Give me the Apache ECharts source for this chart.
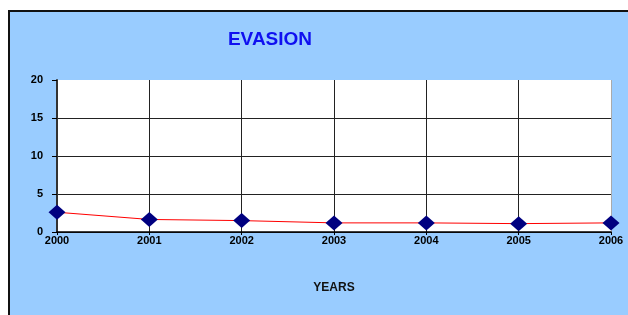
<!DOCTYPE html>
<html>
<head>
<meta charset="utf-8">
<script src="https://cdn.jsdelivr.net/npm/echarts@6/dist/echarts.min.js"></script>
<style>
	body { margin: 0; background: #fff; }
	#mainchart {
		position: absolute; left: 8px; top: 10px;
		width: 618px; height: 303px;
		border-left: 2px solid #111; border-top: 2px solid #111;
		background: #99CCFF;
	}
</style>
</head>
<body>
<div id="mainchart"></div>
<script>
// 数据
var years = ["2000", "2001", "2002", "2003", "2004", "2005", "2006"];
var evasion = [2.6, 1.65, 1.5, 1.2, 1.2, 1.1, 1.2];
var yTicks = [0, 5, 10, 15, 20];

var myChart = echarts.init(document.getElementById('mainchart'));

option = {
	animation : false,
	title : {
		text : 'EVASION',
		left : 255,
		top : 13,
		textAlign : 'center',
		textStyle : {
			color : '#1010F0',
			fontFamily : 'Liberation Sans, Arial, sans-serif',
			fontSize : 19,
			fontWeight : 'bold'
		}
	},
	grid : {
		left : 47,
		top : 68,
		right : 17,
		bottom : 83,
		show : true,
		backgroundColor : '#fff',
		borderWidth : 0
	},
	xAxis : [ {
		type : 'category',
		boundaryGap : false,
		data : years,
		name : 'YEARS',
		nameLocation : 'middle',
		nameGap : 50,
		nameTextStyle : {
			color : '#111',
			fontFamily : 'Liberation Sans, Arial, sans-serif',
			fontSize : 12,
			fontWeight : 'bold'
		},
		axisLine : { lineStyle : { color : '#000', width : 1.5 } },
		axisTick : { show : true, length : 3, lineStyle : { color : '#000' } },
		axisLabel : {
			color : '#000',
			margin : 3,
			fontFamily : 'Liberation Sans, Arial, sans-serif',
			fontSize : 11,
			fontWeight : 'bold'
		},
		splitLine : {
			show : true,
			lineStyle : { color : ['#222', '#222', '#222', '#222', '#222', '#222', '#aaa'], width : 1 }
		}
	} ],
	yAxis : [ {
		type : 'value',
		min : yTicks[0],
		max : yTicks[yTicks.length - 1],
		interval : 5,
		axisLine : { show : true, lineStyle : { color : '#333', width : 2 } },
		axisTick : { show : true, length : 5, lineStyle : { color : '#000' } },
		axisLabel : {
			color : '#000',
			margin : 14,
			fontFamily : 'Liberation Sans, Arial, sans-serif',
			fontSize : 11,
			fontWeight : 'bold'
		},
		splitLine : {
			show : true,
			lineStyle : { color : ['#222', '#222', '#222', '#222', '#fff'], width : 1 }
		}
	} ],
	series : [ {
		name : 'EVASION',
		type : 'line',
		data : evasion,
		symbol : 'diamond',
		symbolSize : [17, 15],
		itemStyle : { color : '#000080' },
		lineStyle : { color : '#FF0000', width : 1 },
		z : 5
	} ]
};

myChart.setOption(option);
</script>
</body>
</html>
